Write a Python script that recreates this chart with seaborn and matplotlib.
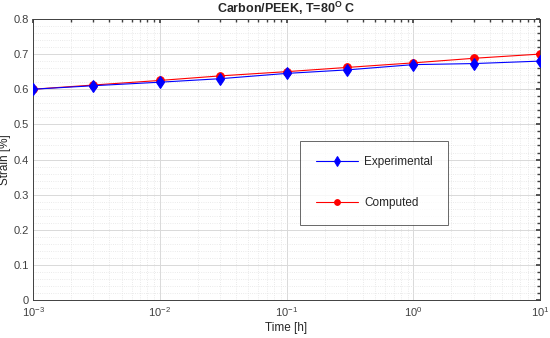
import numpy as np
import pandas as pd
import matplotlib
matplotlib.use("Agg")
import matplotlib.pyplot as plt
import seaborn as sns
from matplotlib.ticker import LogLocator, MultipleLocator

# Data
time_h = [1e-3, 3e-3, 1e-2, 3e-2, 1e-1, 3e-1, 1, 3, 10]
experimental = [0.600, 0.610, 0.620, 0.630, 0.645, 0.655, 0.670, 0.673, 0.680]
computed = [0.600, 0.612, 0.625, 0.638, 0.650, 0.662, 0.675, 0.688, 0.700]

df = pd.DataFrame({"time": time_h, "Experimental": experimental, "Computed": computed})

sns.set_theme(style="white")
plt.rcParams['font.family'] = ['Liberation Sans', 'DejaVu Sans']

fig = plt.figure(figsize=(5.5, 3.38), dpi=100)
ax = fig.add_axes([0.06, 0.112, 0.922, 0.832])

sns.lineplot(data=df, x="time", y="Experimental", ax=ax, color="blue", marker="d",
             markersize=6.5, linewidth=0.8, markeredgecolor="blue",
             label="Experimental", zorder=3)
sns.lineplot(data=df, x="time", y="Computed", ax=ax, color="red", marker="o",
             markersize=5.5, linewidth=0.8, markeredgecolor="red",
             label="Computed", zorder=2)

ax.set_xscale("log")
ax.set_xlim(1e-3, 10)
ax.set_ylim(0, 0.8)
ax.yaxis.set_minor_locator(MultipleLocator(0.02))
ax.xaxis.set_minor_locator(LogLocator(base=10, subs=np.arange(2, 10)))
ax.set_yticks(np.arange(0, 0.81, 0.1))
ax.set_yticklabels(["0", "0.1", "0.2", "0.3", "0.4", "0.5", "0.6", "0.7", "0.8"])

ax.grid(which="major", color="#d9d9d9", linewidth=0.7, linestyle="-")
ax.grid(which="minor", color="#e3e3e3", linewidth=0.6, linestyle=":")
ax.set_axisbelow(True)

ax.tick_params(which="both", direction="in", top=True, right=True,
               labelsize=8, colors="#404040", length=3, pad=3)
ax.tick_params(axis="x", which="major", pad=4)
ax.tick_params(which="minor", length=2)
for s in ax.spines.values():
    s.set_color("#404040")
    s.set_linewidth(0.7)

ax.set_title("Carbon/PEEK, T=80$^{\\mathregular{O}}$ C", fontsize=9, fontweight="bold", pad=4)
ax.set_xlabel("Time [h]", fontsize=8.5, color="#262626", labelpad=2)
ax.set_ylabel("Strain [%]", fontsize=8.5, color="#262626", labelpad=2)

leg = ax.legend(loc="lower left", bbox_to_anchor=(0.527, 0.268, 0.292, 0.30),
                mode="expand", fontsize=8.5, frameon=True, fancybox=False, markerscale=0.75,
                borderpad=1.3, labelspacing=2.5, handlelength=3.6, handletextpad=0.5,
                borderaxespad=0)
leg.get_frame().set_edgecolor("#404040")
leg.get_frame().set_linewidth(0.7)

fig.savefig("out.png", dpi=100, facecolor="white")
